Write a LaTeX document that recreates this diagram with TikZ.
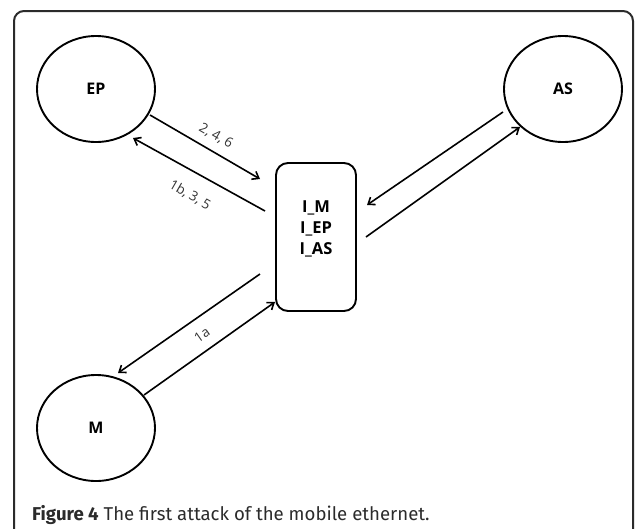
\documentclass[tikz,border=0pt]{standalone}
\usepackage{fontspec}
\setmainfont{Open Sans}
\newfontfamily\capfont{Fira Sans}
\usetikzlibrary{shapes.geometric,arrows.meta}
\definecolor{frame}{HTML}{2B2B2B}
\definecolor{lbl}{HTML}{333333}
\tikzset{
  ent/.style={draw=black,ellipse,line width=1.9pt,minimum width=118pt,minimum height=106pt,inner sep=0pt,font=\bfseries\fontsize{16}{18}\selectfont},
  hub/.style={draw=black,rectangle,rounded corners=12pt,line width=1.9pt,minimum width=80pt,minimum height=148pt,inner sep=0pt},
  msg/.style={line width=1.6pt,-{Straight Barb[length=6pt,width=9pt,line width=1.6pt]}},
  lab/.style={text=lbl,font=\fontsize{13.5}{15}\selectfont,inner sep=0pt}
}
\begin{document}
\begin{tikzpicture}[x=1pt,y=-1pt]
\useasboundingbox (0,0) rectangle (635,528);
\begin{scope}
\clip (0,0) rectangle (635,528);
\draw[frame,line width=2pt,rounded corners=10pt] (14,560) -- (14,11) -- (633,11) -- (633,560);
\end{scope}
\node[ent] (EP) at (96,89) {EP};
\node[ent] (AS) at (563,89) {AS};
\node[ent] (M) at (96,428) {M};
\node[hub] (box) at (316,237) {};
\node[font=\bfseries\fontsize{16.5}{21}\selectfont,align=center,inner sep=0pt] (boxtext) at (316,229) {I\_M\\I\_EP\\I\_AS};
% connector end points
\coordinate (e1s) at (150,115); \coordinate (e1e) at (260,179);
\coordinate (e2s) at (265,211); \coordinate (e2e) at (133,138);
\coordinate (a1s) at (503,112); \coordinate (a1e) at (367,205);
\coordinate (a2s) at (366,237); \coordinate (a2e) at (520,127);
\coordinate (m1s) at (260,274); \coordinate (m1e) at (118,373);
\coordinate (m2s) at (144,395); \coordinate (m2e) at (275,302);
\draw[msg] (e1s) -- (e1e);
\draw[msg] (e2s) -- (e2e);
\draw[msg] (a1s) -- (a1e);
\draw[msg] (a2s) -- (a2e);
\draw[msg] (m1s) -- (m1e);
\draw[msg] (m2s) -- (m2e);
\node[lab,rotate=-30] (l1) at (216,136) {2, 4, 6};
\node[lab,rotate=-30] (l2) at (190,195) {1b, 3, 5};
\node[lab,rotate=35] (l3) at (202,335) {1a};
\node[anchor=base west,inner sep=0pt,text=frame,font=\capfont\fontsize{18.6}{21}\selectfont] (cap) at (32,520) {\textbf{Figure 4} The first attack of the mobile ethernet.};
\end{tikzpicture}
\end{document}
